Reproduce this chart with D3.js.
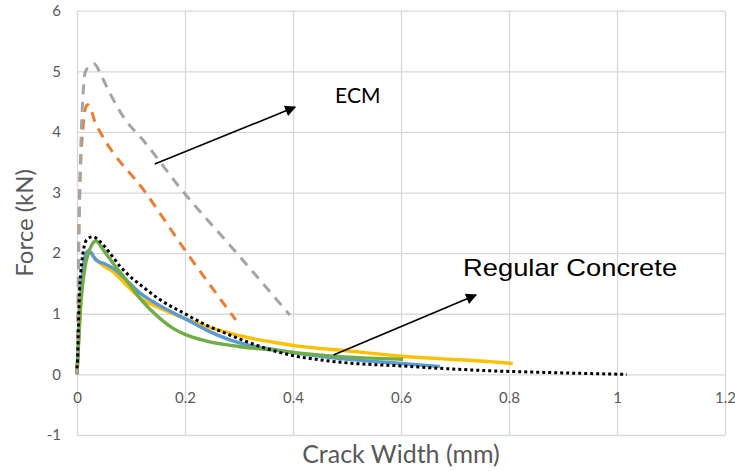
<!DOCTYPE html>
<html>
<head>
<meta charset="utf-8">
<script src="https://cdn.jsdelivr.net/npm/d3@7"></script>
<style>
  body { margin: 0; background: #fff; }
  svg { display: block; }
</style>
</head>
<body>
<script>
// Data: [crack width (mm), force (kN)]
const ecmGray = [[0,0],[0.002,1.0],[0.003,2.0],[0.005,3.0],[0.008,4.0],[0.011,4.6],[0.015,4.98],[0.021,5.07],[0.031,5.13],
  [0.046,4.91],[0.058,4.69],[0.073,4.44],[0.092,4.17],[0.117,3.92],[0.196,3.02],[0.293,2.03],[0.394,0.98]];
const ecmOrange = [[0,0],[0.002,1.0],[0.003,2.0],[0.005,3.0],[0.008,3.7],[0.0105,4.0],[0.0135,4.3],[0.019,4.45],[0.024,4.42],
  [0.033,4.17],[0.046,3.95],[0.127,3.0],[0.2,2.05],[0.294,0.9]];
const rcYellow = [[0,0],[0.004,0.7],[0.008,1.3],[0.013,1.75],[0.018,1.95],[0.024,2.0],[0.033,1.92],[0.043,1.83],[0.067,1.69],
  [0.092,1.47],[0.117,1.26],[0.154,1.09],[0.2,0.92],[0.24,0.79],[0.283,0.68],[0.32,0.6],[0.364,0.53],[0.406,0.47],
  [0.5,0.39],[0.6,0.30],[0.69,0.25],[0.765,0.21],[0.807,0.18]];
const rcBlue = [[0,0],[0.003,0.6],[0.006,1.2],[0.01,1.65],[0.015,1.95],[0.021,2.04],[0.027,2.0],[0.033,1.91],[0.04,1.86],
  [0.05,1.83],[0.067,1.75],[0.092,1.55],[0.117,1.34],[0.154,1.13],[0.2,0.92],[0.24,0.73],[0.283,0.57],[0.32,0.48],
  [0.364,0.41],[0.406,0.35],[0.487,0.26],[0.6,0.18],[0.672,0.13]];
const rcGreen = [[0,0],[0.0025,0.46],[0.0056,1.0],[0.01,1.45],[0.015,1.78],[0.021,2.0],[0.027,2.13],[0.035,2.2],[0.049,2.05],
  [0.067,1.83],[0.092,1.55],[0.117,1.25],[0.154,0.92],[0.178,0.76],[0.2,0.66],[0.24,0.55],[0.3,0.46],[0.364,0.40],
  [0.413,0.35],[0.462,0.31],[0.604,0.25]];
const rcModel = [[0,0.1],[0.001,0.24],[0.0025,0.73],[0.004,1.23],[0.007,1.67],[0.012,2.05],[0.018,2.22],[0.029,2.27],
  [0.043,2.19],[0.061,2.0],[0.08,1.78],[0.1,1.6],[0.117,1.48],[0.154,1.23],[0.2,1.0],[0.24,0.81],[0.283,0.65],[0.32,0.52],
  [0.364,0.39],[0.4,0.31],[0.45,0.24],[0.5,0.19],[0.6,0.14],[0.672,0.10],[0.765,0.06],[0.876,0.03],[1.018,0.0]];

const xTicks = [0, 0.2, 0.4, 0.6, 0.8, 1, 1.2];
const yTicks = [-1, 0, 1, 2, 3, 4, 5, 6];

// annotations in data units
const ecmArrow = [[0.144, 3.47], [0.404, 4.41]];
const ecmLabel = { text: "ECM", x: 0.478, y: 4.48 };
const rcArrow = [[0.475, 0.32], [0.739, 1.31]];
const rcLabel = { text: "Regular Concrete", x: 0.715, y: 1.62 };

const W = 735, H = 471;
const plotLeft = 77, plotRight = 725, plotTop = 10.7, plotBottom = 435;

const svg = d3.select("body").append("svg")
    .attr("width", W)
    .attr("height", H);

const x = d3.scaleLinear().domain([0, 1.2]).range([plotLeft, plotRight]);
const y = d3.scaleLinear().domain([-1, 6]).range([plotBottom, plotTop]);

// gridlines
svg.append("g")
    .attr("transform", `translate(0,${plotBottom})`)
    .call(d3.axisBottom(x).tickValues(xTicks).tickSize(-(plotBottom - plotTop)).tickFormat(""))
    .call(g => g.select(".domain").remove())
    .selectAll("line")
    .attr("stroke", "#d9d9d9")
    .attr("stroke-width", 1.3);

svg.append("g")
    .attr("transform", `translate(${plotLeft},0)`)
    .call(d3.axisLeft(y).tickValues(yTicks).tickSize(-(plotRight - plotLeft)).tickFormat(""))
    .call(g => g.select(".domain").remove())
    .selectAll("line")
    .attr("stroke", "#d9d9d9")
    .attr("stroke-width", 1.3);

// tick labels
const xAxis = svg.append("g")
    .attr("transform", `translate(0,${y(0)})`)
    .call(d3.axisBottom(x).tickValues(xTicks).tickSize(0).tickPadding(18).tickFormat(d => String(d)));
xAxis.select(".domain").remove();
xAxis.selectAll("text")
    .style("font-family", "Lato, sans-serif")
    .style("font-size", "15px")
    .attr("fill", "#595959");

const yAxis = svg.append("g")
    .attr("transform", `translate(${plotLeft},0)`)
    .call(d3.axisLeft(y).tickValues(yTicks).tickSize(0).tickPadding(16).tickFormat(d => String(d)));
yAxis.select(".domain").remove();
yAxis.selectAll("text")
    .style("font-family", "Lato, sans-serif")
    .style("font-size", "15px")
    .attr("fill", "#595959");

// axis titles
svg.append("text")
    .attr("x", (plotLeft + plotRight) / 2)
    .attr("y", 463)
    .attr("text-anchor", "middle")
    .style("font-family", "Lato, sans-serif")
    .style("font-size", "25px")
    .attr("fill", "#595959")
    .text("Crack Width (mm)");

svg.append("text")
    .attr("transform", `translate(33,${(plotTop + plotBottom) / 2}) rotate(-90)`)
    .attr("text-anchor", "middle")
    .style("font-family", "Lato, sans-serif")
    .style("font-size", "24px")
    .attr("fill", "#595959")
    .text("Force (kN)");

// series
const smooth = d3.line()
    .x(d => x(d[0]))
    .y(d => y(d[1]))
    .curve(d3.curveMonotoneX);

const series = [
    { data: rcYellow, color: "#FFC000", dash: null, width: 3.4 },
    { data: rcBlue, color: "#5B9BD5", dash: null, width: 3.4 },
    { data: rcGreen, color: "#70AD47", dash: null, width: 3.4 },
    { data: ecmOrange, color: "#ED7D31", dash: "10,7.5", width: 3 },
    { data: ecmGray, color: "#A5A5A5", dash: "10,7.5", width: 3 },
    { data: rcModel, color: "#000000", dash: "3,3", width: 3 }
];

series.forEach(s => {
    svg.append("path")
        .datum(s.data)
        .attr("d", smooth)
        .attr("fill", "none")
        .attr("stroke", s.color)
        .attr("stroke-width", s.width)
        .attr("stroke-linejoin", "round")
        .attr("stroke-dasharray", s.dash);
});

// arrows
svg.append("defs").append("marker")
    .attr("id", "arrow")
    .attr("viewBox", "0 0 10 10")
    .attr("refX", 9)
    .attr("refY", 5)
    .attr("markerUnits", "userSpaceOnUse")
    .attr("markerWidth", 13)
    .attr("markerHeight", 11)
    .attr("orient", "auto")
    .append("path")
    .attr("d", "M0,0 L10,5 L0,10 Z")
    .attr("fill", "#000");

[ecmArrow, rcArrow].forEach(a => {
    svg.append("line")
        .attr("x1", x(a[0][0])).attr("y1", y(a[0][1]))
        .attr("x2", x(a[1][0])).attr("y2", y(a[1][1]))
        .attr("stroke", "#000")
        .attr("stroke-width", 1.6)
        .attr("marker-end", "url(#arrow)");
});

svg.append("text")
    .attr("x", x(ecmLabel.x))
    .attr("y", y(ecmLabel.y))
    .style("font-family", "Lato, sans-serif")
    .style("font-size", "21px")
    .attr("fill", "#000")
    .text(ecmLabel.text);

svg.append("text")
    .attr("x", x(rcLabel.x))
    .attr("y", y(rcLabel.y))
    .attr("textLength", 214)
    .attr("lengthAdjust", "spacingAndGlyphs")
    .style("font-family", "'Liberation Sans', Arial, sans-serif")
    .style("font-size", "24px")
    .attr("fill", "#000")
    .text(rcLabel.text);
</script>
</body>
</html>
